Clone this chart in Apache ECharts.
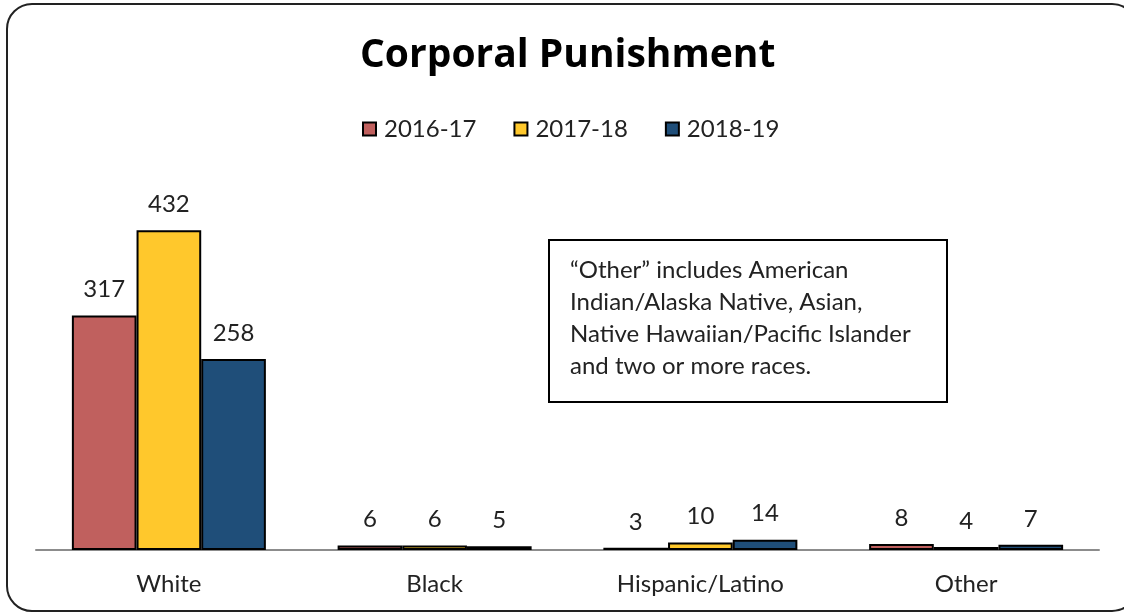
<!DOCTYPE html>
<html>
<head>
<meta charset="utf-8">
<style>
  html, body { margin: 0; padding: 0; background: #fff; }
  #chart { width: 1124px; height: 616px; }
</style>
<script src="https://cdn.jsdelivr.net/npm/echarts@6/dist/echarts.min.js"></script>
</head>
<body>
<div id="chart"></div>
<script>
// data
const categories = ['White', 'Black', 'Hispanic/Latino', 'Other']
const seriesNames = ['2016-17', '2017-18', '2018-19']
const values1617 = [317, 6, 3, 8]
const values1718 = [432, 6, 10, 4]
const values1819 = [258, 5, 14, 7]
const noteLines = [
  '\u201cOther\u201d includes American',
  'Indian/Alaska Native, Asian,',
  'Native Hawaiian/Pacific Islander',
  'and two or more races.'
]

const colors = ['#C0605E', '#FFC82C', '#1F4E79']
const font = 'Lato, "Open Sans", sans-serif'

const chart = echarts.init(document.getElementById('chart'))

const seriesData = [values1617, values1718, values1819]
const series = seriesData.map((vals, i) => ({
  name: seriesNames[i],
  type: 'bar',
  data: vals,
  barGap: '0%',
  barCategoryGap: '27%',
  itemStyle: { color: colors[i], borderColor: '#000', borderWidth: 2 },
  label: {
    show: true,
    position: 'top',
    distance: 14,
    color: '#222',
    fontFamily: font,
    fontSize: 24
  }
}))

chart.setOption({
  animation: false,
  color: colors,
  title: {
    text: 'Corporal Punishment',
    left: 360,
    top: 36,
    padding: 0,
    textStyle: { fontFamily: '"Open Sans", sans-serif', fontSize: 39, fontWeight: 'bold', color: '#000' }
  },
  legend: {
    data: seriesNames,
    top: 112,
    left: 357,
    itemWidth: 13,
    itemHeight: 13,
    itemGap: 37,
    icon: 'rect',
    itemStyle: { borderColor: '#000', borderWidth: 2 },
    textStyle: { fontFamily: font, fontSize: 24, color: '#222', padding: [0, 0, 0, 3] }
  },
  grid: { left: 36, right: 25, top: 180, bottom: 66, containLabel: false },
  xAxis: {
    type: 'category',
    data: categories,
    axisLine: { lineStyle: { color: '#8c8c8c', width: 2 } },
    axisTick: { show: false },
    axisLabel: { fontFamily: font, fontSize: 24, color: '#222', margin: 22 }
  },
  yAxis: {
    type: 'value',
    min: 0,
    max: 500,
    show: false,
    splitLine: { show: false }
  },
  series: series,
  graphic: [
    {
      type: 'rect',
      shape: { x: 7, y: 4, width: 1130, height: 607, r: 25 },
      style: { fill: 'none', stroke: '#222', lineWidth: 2 },
      silent: true
    },
    {
      type: 'rect',
      shape: { x: 549, y: 240, width: 398, height: 162 },
      style: { fill: '#fff', stroke: '#000', lineWidth: 2 },
      z: 10
    },
    {
      type: 'text',
      left: 570,
      top: 254,
      z: 11,
      style: {
        text: noteLines.join('\n'),
        fontFamily: font,
        fontSize: 24,
        lineHeight: 32,
        fill: '#222'
      }
    }
  ]
})
</script>
</body>
</html>
